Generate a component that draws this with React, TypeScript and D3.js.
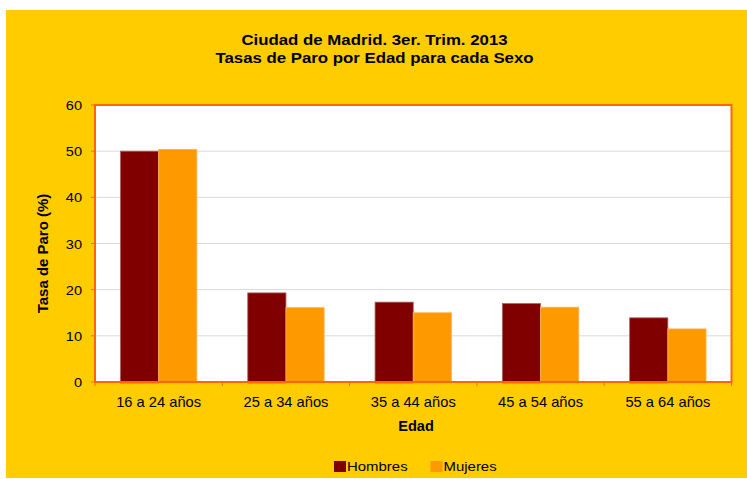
import React from "react";
import * as d3 from "d3";

const categories = ["16 a 24 años", "25 a 34 años", "35 a 44 años", "45 a 54 años", "55 a 64 años"];
const seriesNames = ["Hombres", "Mujeres"];
const hombres = [50.0, 19.3, 17.3, 17.0, 13.9];
const mujeres = [50.4, 16.1, 15.0, 16.2, 11.5];
const yTicks = [0, 10, 20, 30, 40, 50, 60];
const colors = ["#800000", "#FF9900"];
const strokes = ["#B06060", "#FFB347"];

const font = "Liberation Sans, Arial, sans-serif";

function T(props: { x: number; y: number; sx?: number; size: number; bold?: boolean; anchor?: string; children: React.ReactNode }) {
  const { x, y, sx = 1, size, bold, anchor = "start", children } = props;
  return (
    <text transform={`translate(${x},${y}) scale(${sx},1)`} textAnchor={anchor} fontSize={size}
      fontWeight={bold ? "bold" : "normal"} fill="#000" fontFamily={font}>{children}</text>
  );
}

export default function App() {
  const W = 747, H = 479;
  const left = 95, right = 731.5, top = 105, bottom = 382;
  const x0 = d3.scaleBand<string>().domain(categories).range([left, right]).paddingInner(0.4).paddingOuter(0.2);
  const x1 = d3.scaleBand<string>().domain(seriesNames).range([0, x0.bandwidth()]).padding(0);
  const y = d3.scaleLinear().domain([0, 60]).range([bottom, top]);
  const values = [hombres, mujeres];
  const band = (right - left) / categories.length;

  return (
    <svg width={W} height={H} style={{ position: "absolute", left: 0, top: 0 }} fontFamily={font}>
      <rect x={0} y={0} width={W} height={H} fill="#ffffff" />
      <rect x={6} y={10} width={W - 6} height={468} fill="#FFCC00" />
      <T x={374.5} y={44.5} size={14.5} sx={1.16} bold anchor="middle">Ciudad de Madrid. 3er. Trim. 2013</T>
      <T x={374.5} y={63} size={14.5} sx={1.16} bold anchor="middle">Tasas de Paro por Edad para cada Sexo</T>
      <rect x={left} y={top} width={right - left} height={bottom - top} fill="#ffffff" />
      {yTicks.filter(t => t > 0 && t < 60).map(t => (
        <line key={t} x1={left} x2={right} y1={y(t)} y2={y(t)} stroke="#D9D9D9" strokeWidth={1} />
      ))}
      {categories.map((c, i) => (
        <g key={c}>
          {values.map((vals, s) => {
            const bx = (x0(c) as number) + (x1(seriesNames[s]) as number);
            return (
              <rect key={s} x={bx} y={y(vals[i])} width={x1.bandwidth()} height={bottom + 1 - y(vals[i])}
                fill={colors[s]} stroke={strokes[s]} strokeWidth={0.8} />
            );
          })}
        </g>
      ))}
      <rect x={left} y={top} width={right - left} height={bottom - top} fill="none" stroke="#FF6600" strokeWidth={2} />
      {yTicks.map(t => (
        <g key={t}>
          <line x1={left - 4} x2={left} y1={y(t)} y2={y(t)} stroke="#FF6600" strokeWidth={1} />
          <T x={82} y={y(t) + 5} size={13.5} sx={1.08} anchor="end">{t}</T>
        </g>
      ))}
      {d3.range(categories.length + 1).map(i => (
        <line key={i} x1={left + i * band} x2={left + i * band} y1={bottom} y2={bottom + 4} stroke="#FF6600" strokeWidth={1} />
      ))}
      {categories.map(c => (
        <T key={c} x={(x0(c) as number) + x0.bandwidth() / 2} y={406.5} size={14} sx={1.05} anchor="middle">{c}</T>
      ))}
      <T x={416} y={430.5} size={14} sx={1.04} bold anchor="middle">Edad</T>
      <text transform={`translate(48,${253.5}) rotate(-90) scale(1.07,1)`} textAnchor="middle" fontSize={14} fontWeight="bold" fill="#000">Tasa de Paro (%)</text>
      {seriesNames.map((n, s) => {
        const lx = s === 0 ? 334 : 430.5;
        return (
          <g key={n}>
            <rect x={lx} y={461} width={12} height={11} fill={colors[s]} />
            <T x={lx + 13} y={471} size={13} sx={1.15}>{n}</T>
          </g>
        );
      })}
    </svg>
  );
}
